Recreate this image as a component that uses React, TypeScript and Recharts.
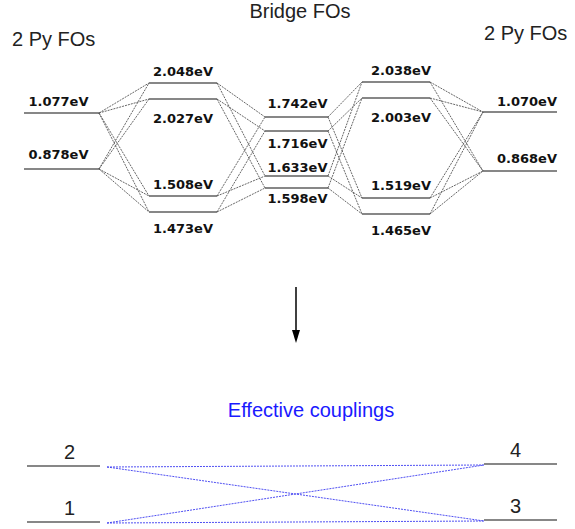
import { LineChart, Line, XAxis, YAxis, LabelList } from "recharts";

// energies (eV) of each column of fragment orbitals, left to right
const leftPyEnergies = ["1.077", "0.878"];
const bridgeLeftEnergies = ["2.048", "2.027", "1.508", "1.473"];
const bridgeMidEnergies = ["1.742", "1.716", "1.633", "1.598"];
const bridgeRightEnergies = ["2.038", "2.003", "1.519", "1.465"];
const rightPyEnergies = ["1.070", "0.868"];

// schematic level heights (diagram rows, top = 0)
const leftPyRows = [113, 169];
const bridgeLeftRows = [83, 99, 196, 212];
const bridgeMidRows = [117, 131, 176, 188];
const bridgeRightRows = [82, 98, 198, 214];
const rightPyRows = [112, 171];

// which bridge orbitals talk to which (bridgeLeft/Right index -> bridgeMid index)
const bridgeLinks = [
  [0, 0], [0, 2], [1, 1], [1, 3],
  [2, 0], [2, 2], [3, 1], [3, 3],
];

// effective coupling states
const effectiveNames = ["2", "1", "4", "3"];
const effectiveRows = [466, 522, 464, 520];
const effectiveLinks = [[0, 2], [0, 3], [1, 2], [1, 3]];

// layout
const W = 575;
const H = 529;
const spans = [[24, 99], [149, 217], [265, 328], [362, 430], [483, 557]];
const labelShift = [-3, 0, 1, 5, 7];
const labelDy = [
  [-7, -10],
  [-7, 24, -7, 21],
  [-9, 17, -4, 15],
  [-7, 24, -8, 21],
  [-6, -8],
];
const effSpans = [[27, 100], [27, 100], [484, 557], [484, 557]];
const effShift = [6, 6, -5, -5];
const effLinkX = [107, 484];

const columns = [
  { energies: leftPyEnergies, rows: leftPyRows },
  { energies: bridgeLeftEnergies, rows: bridgeLeftRows },
  { energies: bridgeMidEnergies, rows: bridgeMidRows },
  { energies: bridgeRightEnergies, rows: bridgeRightRows },
  { energies: rightPyEnergies, rows: rightPyRows },
];

type Pt = { x: number; y: number; label?: string; dy?: number };

const levels: Pt[][] = [];
const levelTags: Pt[] = [];
columns.forEach((col, ci) => {
  const [x0, x1] = spans[ci];
  col.rows.forEach((row, li) => {
    levels.push([{ x: x0, y: row }, { x: x1, y: row }]);
    levelTags.push({
      x: (x0 + x1) / 2 + labelShift[ci],
      y: row,
      label: col.energies[li] + "eV",
      dy: labelDy[ci][li],
    });
  });
});

const links: Pt[][] = [];
// Py -> bridge, all pairs
leftPyRows.forEach((a) =>
  bridgeLeftRows.forEach((b) => links.push([{ x: spans[0][1], y: a }, { x: spans[1][0], y: b }]))
);
rightPyRows.forEach((a) =>
  bridgeRightRows.forEach((b) => links.push([{ x: spans[3][1], y: b }, { x: spans[4][0], y: a }]))
);
bridgeLinks.forEach(([s, m]) => {
  links.push([{ x: spans[1][1], y: bridgeLeftRows[s] }, { x: spans[2][0], y: bridgeMidRows[m] }]);
  links.push([{ x: spans[2][1], y: bridgeMidRows[m] }, { x: spans[3][0], y: bridgeRightRows[s] }]);
});

const effLevels: Pt[][] = effectiveRows.map((row, i) => [
  { x: effSpans[i][0], y: row },
  { x: effSpans[i][1], y: row },
]);
const effTags: Pt[] = effectiveRows.map((row, i) => ({
  x: (effSpans[i][0] + effSpans[i][1]) / 2 + effShift[i],
  y: row,
  label: effectiveNames[i],
  dy: -7,
}));
const effLinks: Pt[][] = effectiveLinks.map(([a, b]) => [
  { x: effLinkX[0], y: effectiveRows[a] + 1 },
  { x: effLinkX[1], y: effectiveRows[b] + 1 },
]);

const arrow: Pt[] = [{ x: 296, y: 287 }, { x: 296, y: 331 }];

const energyLabel = (tags: Pt[]) => (p: any) => {
  const t = tags[p.index];
  if (!t) return null;
  return (
    <text key={p.index} x={p.x} y={p.y + (t.dy ?? 0)} textAnchor="middle" fontFamily="DejaVu Sans"
      fontWeight="bold" fontSize={13} fill="#111">
      {t.label}
    </text>
  );
};

const nameLabel = (p: any) => {
  const t = effTags[p.index];
  if (!t) return null;
  return (
    <text key={p.index} x={p.x} y={p.y + (t.dy ?? 0)} textAnchor="middle" fontFamily="Liberation Sans"
      fontSize={20} fill="#222">
      {t.label}
    </text>
  );
};

const arrowHead = (p: any) => {
  if (p.index !== 1) return <g key={p.index} />;
  const { cx, cy } = p;
  return <polygon key={p.index} points={`${cx - 4},${cy - 1} ${cx + 4},${cy - 1} ${cx},${cy + 12}`} fill="#000" />;
};

const title = { fontFamily: "Liberation Sans", fontSize: 20, fill: "#222" };

export default function App() {
  return (
    <div style={{ position: "absolute", left: 0, top: 0, width: W, height: H, background: "#fff" }}>
      <LineChart width={W} height={H} margin={{ top: 0, right: 0, bottom: 0, left: 0 }}>
        <XAxis type="number" dataKey="x" domain={[0, W]} hide allowDataOverflow />
        <YAxis type="number" dataKey="y" domain={[0, H]} reversed hide allowDataOverflow />
        {links.map((d, i) => (
          <Line key={"l" + i} data={d} dataKey="y" stroke="#555" strokeWidth={0.9}
            strokeDasharray="2 1" dot={false} activeDot={false} isAnimationActive={false} />
        ))}
        {effLinks.map((d, i) => (
          <Line key={"e" + i} data={d} dataKey="y" stroke="#3b3bf0" strokeWidth={0.9}
            strokeDasharray="2 1" dot={false} activeDot={false} isAnimationActive={false} />
        ))}
        {levels.map((d, i) => (
          <Line key={"v" + i} data={d} dataKey="y" stroke="#111" strokeWidth={1.2}
            dot={false} activeDot={false} isAnimationActive={false} />
        ))}
        {effLevels.map((d, i) => (
          <Line key={"f" + i} data={d} dataKey="y" stroke="#111" strokeWidth={1.2}
            dot={false} activeDot={false} isAnimationActive={false} />
        ))}
        <Line key="tags" data={levelTags} dataKey="y" stroke="none" dot={false} activeDot={false}
          isAnimationActive={false}>
          <LabelList dataKey="label" content={energyLabel(levelTags)} />
        </Line>
        <Line key="efftags" data={effTags} dataKey="y" stroke="none" dot={false} activeDot={false}
          isAnimationActive={false}>
          <LabelList dataKey="label" content={nameLabel} />
        </Line>
        <Line key="arrow" data={arrow} dataKey="y" stroke="#000" strokeWidth={1.5} dot={arrowHead}
          activeDot={false} isAnimationActive={false} />
        <text x={300} y={18} textAnchor="middle" {...title}>Bridge FOs</text>
        <text x={12} y={46} {...title}>2 Py FOs</text>
        <text x={484} y={40} {...title}>2 Py FOs</text>
        <text x={311} y={417} textAnchor="middle" {...title} fill="#1a1aff">Effective couplings</text>
      </LineChart>
    </div>
  );
}
